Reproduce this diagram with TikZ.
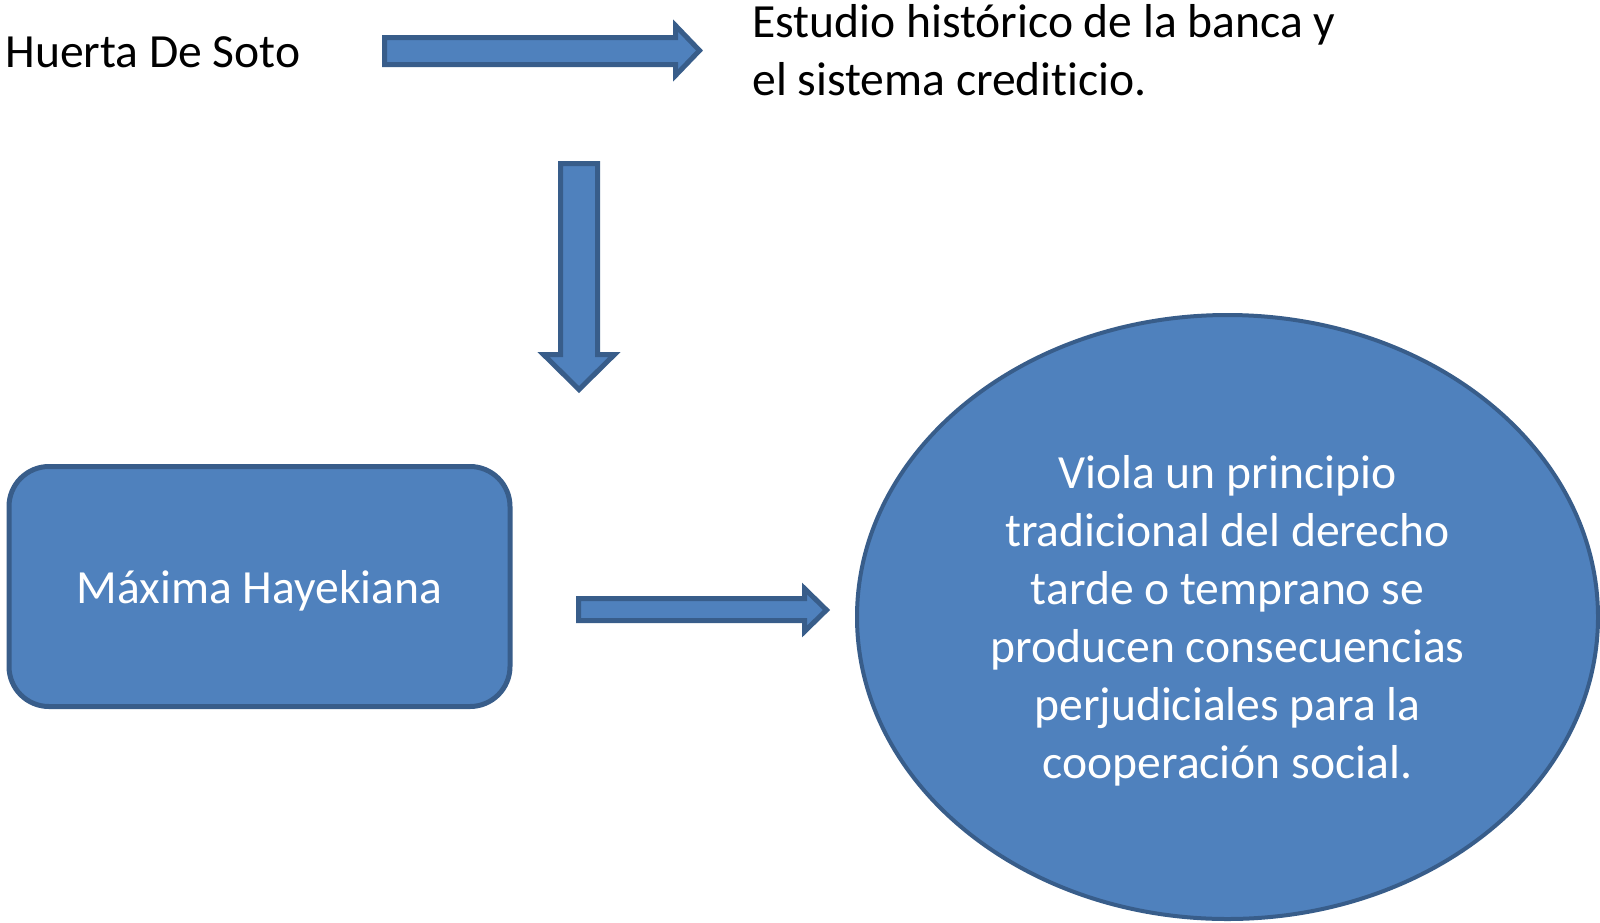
\documentclass[tikz,border=0pt]{standalone}
\usepackage{fontspec}
\setmainfont{Carlito}[Ligatures=NoCommon]
\usetikzlibrary{shapes.geometric}
\definecolor{officeblue}{RGB}{79,129,189}
\definecolor{officeedge}{RGB}{56,93,138}

\begin{document}
\begin{tikzpicture}[
  x=0.5pt, y=-0.5pt,
  textlabel/.style={inner sep=0pt, font=\fontsize{23.8}{29}\selectfont, text=black},
  roundbox/.style={rectangle, draw=officeedge, fill=officeblue, rounded corners=20pt, line width=2.5pt, minimum width=250.5pt, minimum height=120pt, text depth=0pt, font=\fontsize{23.8}{29}\selectfont, text=white},
  oval/.style={ellipse, draw=officeedge, fill=officeblue, line width=2pt, minimum width=370.5pt, minimum height=302pt, inner sep=0pt, text depth=0pt, align=center, font=\fontsize{23.8}{29}\selectfont, text=white},
  fatarrow/.style={draw=officeedge, fill=officeblue, line width=2.5pt, line join=miter}
]
  \useasboundingbox (0,0) rectangle (1600,922);

  % Nodes
  \node[textlabel, anchor=base west] (soto) at (5,67.5) {Huerta De Soto};
  \node[textlabel, anchor=base west, align=left] (estudio) at (752,95) {Estudio histórico de la banca y\\el sistema crediticio.};
  \node[roundbox] (maxima) at (259.5,586.5) {Máxima Hayekiana};
  \node[oval] (viola) at (1227.5,617) {Viola un principio\\tradicional del derecho\\tarde o temprano se\\producen consecuencias\\perjudiciales para la\\cooperación social.};

  % Arrows
  \draw[fatarrow] (384.5,37.5) -- (675.5,37.5) -- (675.5,25.5) -- (699.5,50.5) -- (675.5,75.5) -- (675.5,64.5) -- (384.5,64.5) -- cycle;
  \draw[fatarrow] (560.5,163.5) -- (597.5,163.5) -- (597.5,354.5) -- (614.5,354.5) -- (579,389.5) -- (543.5,354.5) -- (560.5,354.5) -- cycle;
  \draw[fatarrow] (578.5,598.5) -- (804.5,598.5) -- (804.5,588.5) -- (826.5,610) -- (804.5,631.5) -- (804.5,620.5) -- (578.5,620.5) -- cycle;

\end{tikzpicture}
\end{document}
